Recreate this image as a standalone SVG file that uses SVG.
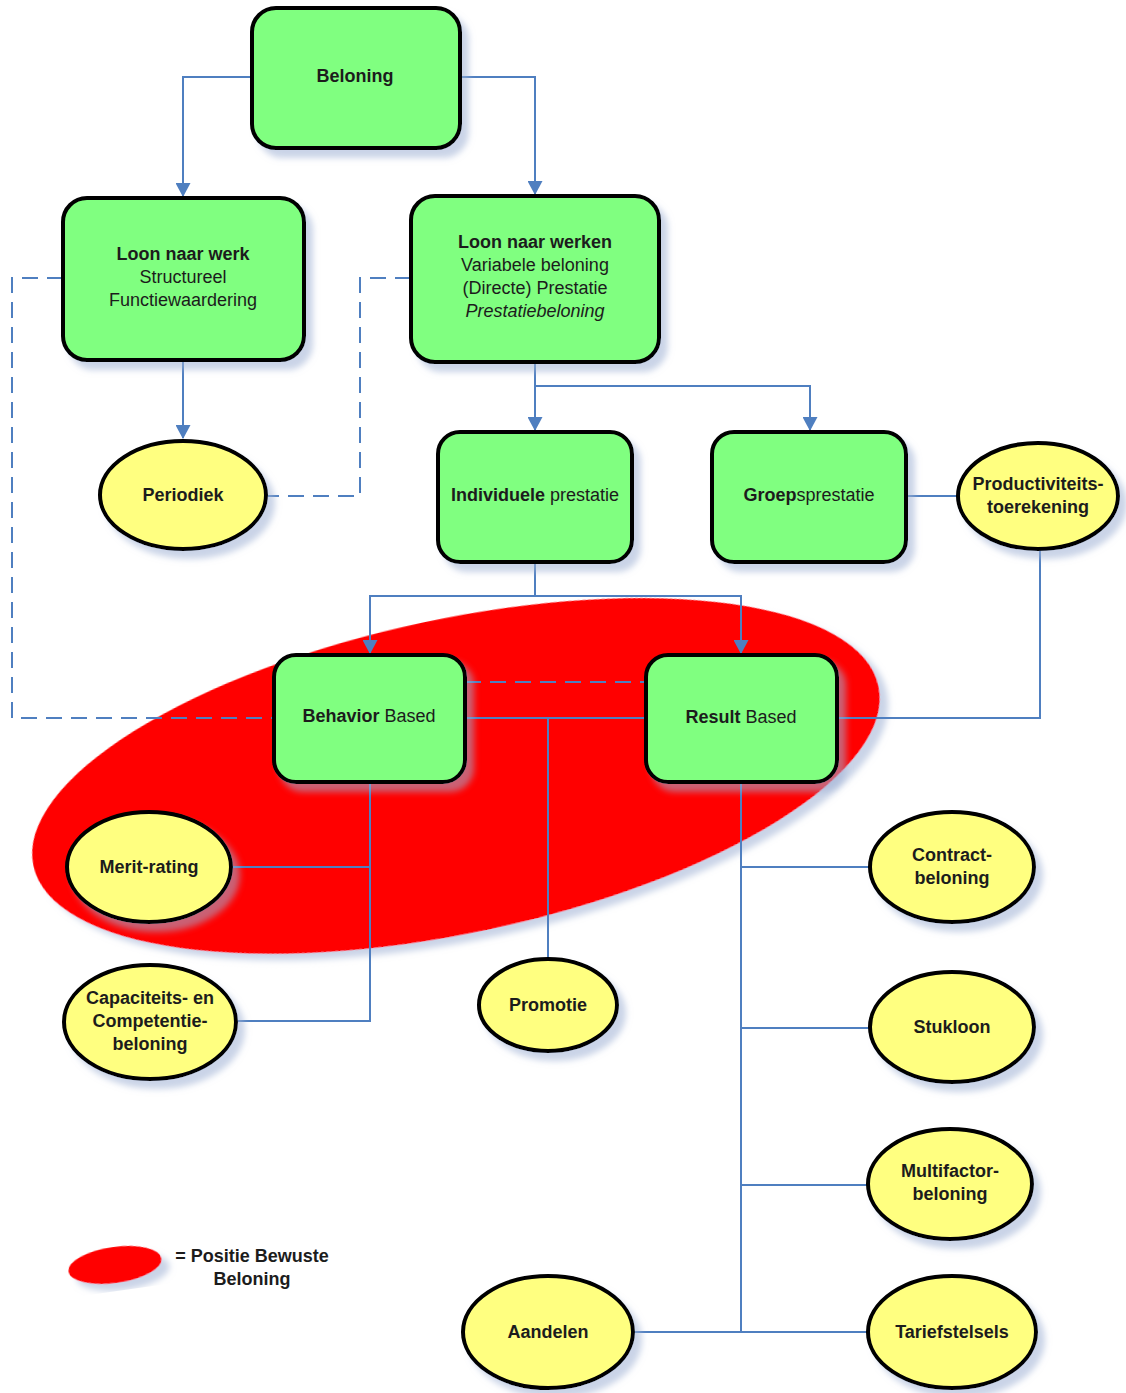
<svg xmlns="http://www.w3.org/2000/svg" width="1126" height="1393" viewBox="0 0 1126 1393">
<defs>
<filter id="sh" x="-10%" y="-10%" width="130%" height="130%">
<feDropShadow dx="7" dy="8" stdDeviation="3" flood-color="#9fb0d4" flood-opacity="0.55"/>
</filter>
<marker id="arr" viewBox="0 0 14 15" refX="13" refY="7.5" markerWidth="14" markerHeight="15" markerUnits="userSpaceOnUse" orient="auto">
<path d="M0,0 L14,7.5 L0,15 z" fill="#4f7fc0"/>
</marker>
<style>
.box{fill:#80ff80;stroke:#000;stroke-width:4;filter:url(#sh)}
.ell{fill:#ffff80;stroke:#000;stroke-width:4;filter:url(#sh)}
.c{fill:none;stroke:#4f7fc0;stroke-width:2}
.d{fill:none;stroke:#4f7fc0;stroke-width:2;stroke-dasharray:16,9}
text{font-family:"Liberation Sans",Arial,sans-serif;font-size:18px;fill:#1c1c1c;text-anchor:middle}
.b{font-weight:bold}
.i{font-style:italic}
</style>
</defs>
<rect width="1126" height="1393" fill="#fff"/>
<g id="zone">
<ellipse cx="456" cy="776" rx="432" ry="157" transform="rotate(-12 456 776)" fill="#ff0000" filter="url(#sh)"/>
</g>
<g id="connectors">
<path class="c" d="M252,77 H183 V196" marker-end="url(#arr)"/>
<path class="c" d="M460,77 H535 V194" marker-end="url(#arr)"/>
<path class="c" d="M183,360 V438" marker-end="url(#arr)"/>
<path class="c" d="M535,362 V430" marker-end="url(#arr)"/>
<path class="c" d="M535,386 H810 V430" marker-end="url(#arr)"/>
<path class="d" d="M63,278 H12 V718 H274"/>
<path class="d" d="M411,278 H360 V496 H266"/>
<path class="c" d="M535,562 V596 H370 V653" marker-end="url(#arr)"/>
<path class="c" d="M535,596 H741 V653" marker-end="url(#arr)"/>
<path class="d" d="M465,682 H646"/>
<path class="c" d="M465,718 H646"/>
<path class="c" d="M548,718 V960"/>
<path class="c" d="M906,496 H958"/>
<path class="c" d="M1040,550 V718 H837"/>
<path class="c" d="M370,782 V1021 H236"/>
<path class="c" d="M231,867 H370"/>
<path class="c" d="M741,782 V1332"/>
<path class="c" d="M741,867 H871"/>
<path class="c" d="M741,1028 H871"/>
<path class="c" d="M741,1185 H868"/>
<path class="c" d="M633,1332 H867"/>
</g>
<g id="beloning">
<rect class="box" x="252" y="8" width="208" height="140" rx="24"/>
<text class="b" x="355" y="82">Beloning</text>
</g>
<g id="loon-naar-werk">
<rect class="box" x="63" y="198" width="241" height="162" rx="24"/>
<text x="183" y="260"><tspan class="b">Loon naar werk</tspan><tspan x="183" dy="23">Structureel</tspan><tspan x="183" dy="23">Functiewaardering</tspan></text>
</g>
<g id="loon-naar-werken">
<rect class="box" x="411" y="196" width="248" height="166" rx="24"/>
<text x="535" y="248"><tspan class="b">Loon naar werken</tspan><tspan x="535" dy="23">Variabele beloning</tspan><tspan x="535" dy="23">(Directe) Prestatie</tspan><tspan x="535" dy="23" class="i">Prestatiebeloning</tspan></text>
</g>
<g id="periodiek">
<ellipse class="ell" cx="183" cy="495" rx="83" ry="54"/>
<text class="b" x="183" y="501">Periodiek</text>
</g>
<g id="individuele-prestatie">
<rect class="box" x="438" y="432" width="194" height="130" rx="22"/>
<text x="535" y="501"><tspan class="b">Individuele</tspan> prestatie</text>
</g>
<g id="groepsprestatie">
<rect class="box" x="712" y="432" width="194" height="130" rx="22"/>
<text x="809" y="501"><tspan class="b">Groep</tspan>sprestatie</text>
</g>
<g id="productiviteitstoerekening">
<ellipse class="ell" cx="1038" cy="496" rx="80" ry="53"/>
<text class="b" x="1038" y="490">Productiviteits-<tspan x="1038" dy="23">toerekening</tspan></text>
</g>
<g id="behavior-based">
<rect class="box" x="274" y="655" width="191" height="127" rx="22"/>
<text x="369" y="722"><tspan class="b">Behavior</tspan> Based</text>
</g>
<g id="result-based">
<rect class="box" x="646" y="655" width="191" height="127" rx="22"/>
<text x="741" y="723"><tspan class="b">Result</tspan> Based</text>
</g>
<g id="merit-rating">
<ellipse class="ell" cx="149" cy="867" rx="82" ry="55"/>
<text class="b" x="149" y="873">Merit-rating</text>
</g>
<g id="capaciteits">
<ellipse class="ell" cx="150" cy="1022" rx="86" ry="57"/>
<text class="b" x="150" y="1004">Capaciteits- en<tspan x="150" dy="23">Competentie-</tspan><tspan x="150" dy="23">beloning</tspan></text>
</g>
<g id="promotie">
<ellipse class="ell" cx="548" cy="1005" rx="69" ry="46"/>
<text class="b" x="548" y="1011">Promotie</text>
</g>
<g id="contractbeloning">
<ellipse class="ell" cx="952" cy="867" rx="82" ry="55"/>
<text class="b" x="952" y="861">Contract-<tspan x="952" dy="23">beloning</tspan></text>
</g>
<g id="stukloon">
<ellipse class="ell" cx="952" cy="1027" rx="82" ry="55"/>
<text class="b" x="952" y="1033">Stukloon</text>
</g>
<g id="multifactorbeloning">
<ellipse class="ell" cx="950" cy="1184" rx="82" ry="55"/>
<text class="b" x="950" y="1177">Multifactor-<tspan x="950" dy="23">beloning</tspan></text>
</g>
<g id="tariefstelsels">
<ellipse class="ell" cx="952" cy="1332" rx="84" ry="56"/>
<text class="b" x="952" y="1338">Tariefstelsels</text>
</g>
<g id="aandelen">
<ellipse class="ell" cx="548" cy="1332" rx="85" ry="56"/>
<text class="b" x="548" y="1338">Aandelen</text>
</g>
<g id="legend">
<ellipse cx="115" cy="1265" rx="47" ry="18" transform="rotate(-8 115 1265)" fill="#ff0000" filter="url(#sh)"/>
<text class="b" x="252" y="1262">= Positie Bewuste<tspan x="252" dy="23">Beloning</tspan></text>
</g>
</svg>
